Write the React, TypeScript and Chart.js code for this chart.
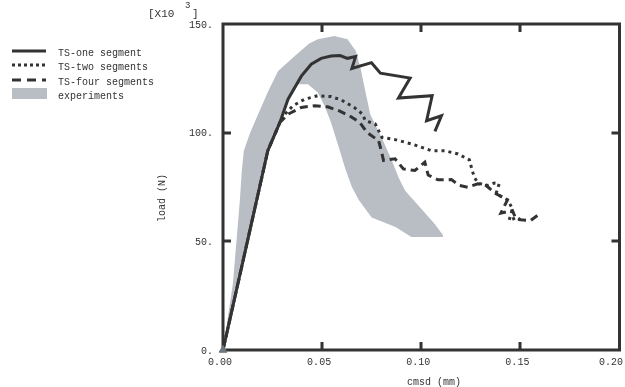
import React, { useEffect, useRef } from "react";
import { Chart, registerables } from "chart.js";

Chart.register(...registerables);

type P = [number, number];

// cmsd (mm), load (x10^3 N)
const tsOne: P[] = [
  [0, 0], [0.0226, 91.7], [0.0287, 104.7], [0.0328, 115.4], [0.0395, 126], [0.0445, 131.5],
  [0.0495, 134.2], [0.0545, 135.3], [0.059, 135.5], [0.0628, 134.2], [0.0669, 135],
  [0.065, 129.5], [0.0749, 132.2], [0.0794, 127.4], [0.0944, 125.1], [0.0885, 115.9],
  [0.1055, 117], [0.1027, 105.5], [0.1102, 107.8], [0.1069, 100.6],
];

const tsTwo: P[] = [
  [0, 0], [0.0226, 91.7], [0.0287, 104.7], [0.0312, 108.5], [0.0353, 112.4], [0.0412, 115.4],
  [0.0478, 117], [0.0545, 116.6], [0.0595, 115.1], [0.0662, 111.6], [0.0703, 108.6],
  [0.0718, 105.5], [0.0768, 104], [0.0802, 97.8], [0.0868, 96.8], [0.0952, 94.8],
  [0.1052, 91.7], [0.1118, 91.7], [0.1185, 90.2], [0.1243, 87.5], [0.1257, 82.6],
  [0.1268, 79.5], [0.1285, 76.8], [0.1335, 75.7], [0.1368, 76.8], [0.1393, 76.5],
  [0.1377, 71.9], [0.1435, 69.1], [0.146, 65], [0.1443, 59.6], [0.1485, 61.1], [0.1502, 59.6],
];

const tsFour: P[] = [
  [0, 0], [0.0226, 91.7], [0.0287, 104.7], [0.0328, 108.5], [0.0395, 111.6], [0.0462, 112.4],
  [0.0528, 111.9], [0.0587, 110], [0.0637, 107.8], [0.069, 104.7], [0.0727, 100.1],
  [0.0785, 96.3], [0.08, 91], [0.081, 87.2], [0.0868, 88], [0.091, 83.3], [0.0968, 82.6],
  [0.1018, 86.4], [0.1035, 80.5], [0.1085, 78.3], [0.1152, 78.4], [0.1193, 75.7],
  [0.1235, 74.9], [0.1285, 76.5], [0.1327, 75.7], [0.1377, 71.9], [0.1435, 69.1],
  [0.1402, 63], [0.146, 64.2], [0.1477, 60.4], [0.1502, 59.9], [0.1552, 59.6], [0.1593, 62.4],
];

const expUpper: P[] = [
  [0, 0], [0.001, 6], [0.005, 30.6], [0.0085, 68.8], [0.0095, 82.6], [0.0105, 91.7],
  [0.0135, 99.5], [0.0165, 106], [0.0228, 119], [0.0278, 128.4], [0.0362, 135.3],
  [0.0435, 141], [0.0478, 143], [0.0562, 144.5], [0.0628, 143], [0.067, 137.6],
  [0.0695, 129.2], [0.0718, 119], [0.0743, 108.4], [0.08, 97.8], [0.0852, 87.2],
  [0.0885, 79.5], [0.0918, 73.4], [0.1, 65], [0.1068, 58], [0.111, 52.8],
];

const expLower: P[] = [
  [0, 0], [0.0226, 91.7], [0.0287, 104.7], [0.0328, 116], [0.0378, 122.3], [0.0428, 122.3],
  [0.0478, 118.5], [0.0512, 112.4], [0.0545, 104.7], [0.0585, 93], [0.0615, 84],
  [0.065, 75], [0.0685, 69], [0.075, 61], [0.087, 56.6], [0.095, 52], [0.111, 52],
];

const originMarker: P[] = [[0, 0]];

const xTicks = [0, 0.05, 0.1, 0.15, 0.2];
const yTicks = [0, 50, 100, 150];
const legendLabels = ["TS-one segment", "TS-two segments", "TS-four segments", "experiments"];
const xTitle = "cmsd (mm)";
const yTitle = "load (N)";

const INK = "#333333";
const BAND = "#b9bdc4";
const FONT = "10px 'Liberation Mono', 'DejaVu Sans Mono', monospace";

const toXY = (pts: P[]) => pts.map(([x, y]) => ({ x, y }));

const decorPlugin = {
  id: "decor",
  beforeDatasetsDraw(chart: any) {
    const { ctx, chartArea: a, scales } = chart;
    const xs = scales.x, ys = scales.y;
    ctx.save();
    ctx.strokeStyle = INK;
    ctx.lineWidth = 3;
    ctx.strokeRect(a.left, a.top, a.right - a.left, a.bottom - a.top);
    const tl = 8;
    ctx.beginPath();
    for (const v of xTicks) {
      const px = Math.round(xs.getPixelForValue(v));
      if (px <= a.left + 2 || px >= a.right - 2) continue;
      ctx.moveTo(px, a.bottom); ctx.lineTo(px, a.bottom - tl);
      ctx.moveTo(px, a.top); ctx.lineTo(px, a.top + tl);
    }
    for (const v of yTicks) {
      const py = Math.round(ys.getPixelForValue(v));
      if (py <= a.top + 2 || py >= a.bottom - 2) continue;
      ctx.moveTo(a.left, py); ctx.lineTo(a.left + tl, py);
      ctx.moveTo(a.right, py); ctx.lineTo(a.right - tl, py);
    }
    ctx.stroke();
    ctx.restore();
  },
  afterDraw(chart: any) {
    const { ctx, chartArea: a, scales, width } = chart;
    const xs = scales.x, ys = scales.y;
    ctx.save();
    ctx.fillStyle = INK;
    ctx.font = FONT;
    // y tick labels
    ctx.textAlign = "right";
    ctx.textBaseline = "middle";
    for (const v of yTicks) {
      ctx.fillText(`${v}.`, a.left - 10, ys.getPixelForValue(v) + 1);
    }
    // x tick labels
    ctx.textAlign = "center";
    for (const v of xTicks) {
      const label = v.toFixed(2);
      const w = ctx.measureText(label).width;
      let cx = xs.getPixelForValue(v) - 3;
      cx = Math.min(cx, width - 2 - w / 2);
      ctx.fillText(label, cx, a.bottom + 12);
    }
    // axis titles
    ctx.fillText(xTitle, 434, 382);
    ctx.save();
    ctx.translate(162, 198);
    ctx.rotate(-Math.PI / 2);
    ctx.fillText(yTitle, 0, 0);
    ctx.restore();
    // multiplier
    ctx.textAlign = "left";
    ctx.textBaseline = "alphabetic";
    ctx.font = "11px 'Liberation Mono', 'DejaVu Sans Mono', monospace";
    ctx.fillText("[X10", 148, 17);
    ctx.font = "9px 'Liberation Mono', 'DejaVu Sans Mono', monospace";
    ctx.fillText("3", 185, 8);
    ctx.font = "11px 'Liberation Mono', 'DejaVu Sans Mono', monospace";
    ctx.fillText("]", 192, 17);
    // legend
    ctx.font = FONT;
    const rows = [51, 65, 80, 94];
    const dashes = [[], [3, 3], [9, 6]];
    ctx.strokeStyle = INK;
    ctx.lineWidth = 3;
    for (let i = 0; i < 3; i++) {
      ctx.setLineDash(dashes[i]);
      ctx.beginPath();
      ctx.moveTo(12, rows[i]);
      ctx.lineTo(46, rows[i]);
      ctx.stroke();
    }
    ctx.setLineDash([]);
    ctx.fillStyle = BAND;
    ctx.fillRect(12, 88, 35, 11);
    ctx.fillStyle = INK;
    ctx.textBaseline = "middle";
    for (let i = 0; i < 4; i++) {
      ctx.fillText(legendLabels[i], 58, rows[i] + 2);
    }
    ctx.restore();
  },
};

export default function App() {
  const ref = useRef<HTMLCanvasElement | null>(null);
  useEffect(() => {
    if (!ref.current) return;
    const lineBase = {
      borderColor: INK,
      borderWidth: 3,
      pointRadius: 0,
      tension: 0,
      fill: false,
    };
    const chart = new Chart(ref.current, {
      type: "line",
      data: {
        datasets: [
          {
            label: "origin",
            data: toXY(originMarker),
            showLine: false,
            pointStyle: "triangle",
            pointRadius: 4.5,
            pointBackgroundColor: "#6e7880",
            pointBorderColor: "#6e7880",
            pointBorderWidth: 1,
            clip: false,
          } as any,
          { ...lineBase, label: legendLabels[0], data: toXY(tsOne) },
          { ...lineBase, label: legendLabels[1], data: toXY(tsTwo), borderDash: [3, 4] },
          { ...lineBase, label: legendLabels[2], data: toXY(tsFour), borderDash: [8, 5] },
          {
            label: legendLabels[3],
            data: toXY(expUpper),
            borderWidth: 0,
            pointRadius: 0,
            backgroundColor: BAND,
            borderColor: BAND,
            fill: "+1",
            tension: 0,
          },
          {
            label: "experiments-lower",
            data: toXY(expLower),
            borderWidth: 0,
            pointRadius: 0,
            borderColor: BAND,
            fill: false,
            tension: 0,
          },
        ],
      },
      options: {
        responsive: false,
        animation: false,
        layout: { padding: { left: 223, top: 24, right: 2, bottom: 37 } },
        scales: {
          x: { type: "linear", min: 0, max: 0.2, display: false },
          y: { type: "linear", min: 0, max: 150, display: false },
        },
        plugins: {
          legend: { display: false },
          tooltip: { enabled: false },
        },
      },
      plugins: [decorPlugin],
    });
    return () => chart.destroy();
  }, []);
  return (
    <div style={{ position: "fixed", left: 0, top: 0, width: 625, height: 387, background: "#fff" }}>
      <canvas ref={ref} width={625} height={387} />
    </div>
  );
}
